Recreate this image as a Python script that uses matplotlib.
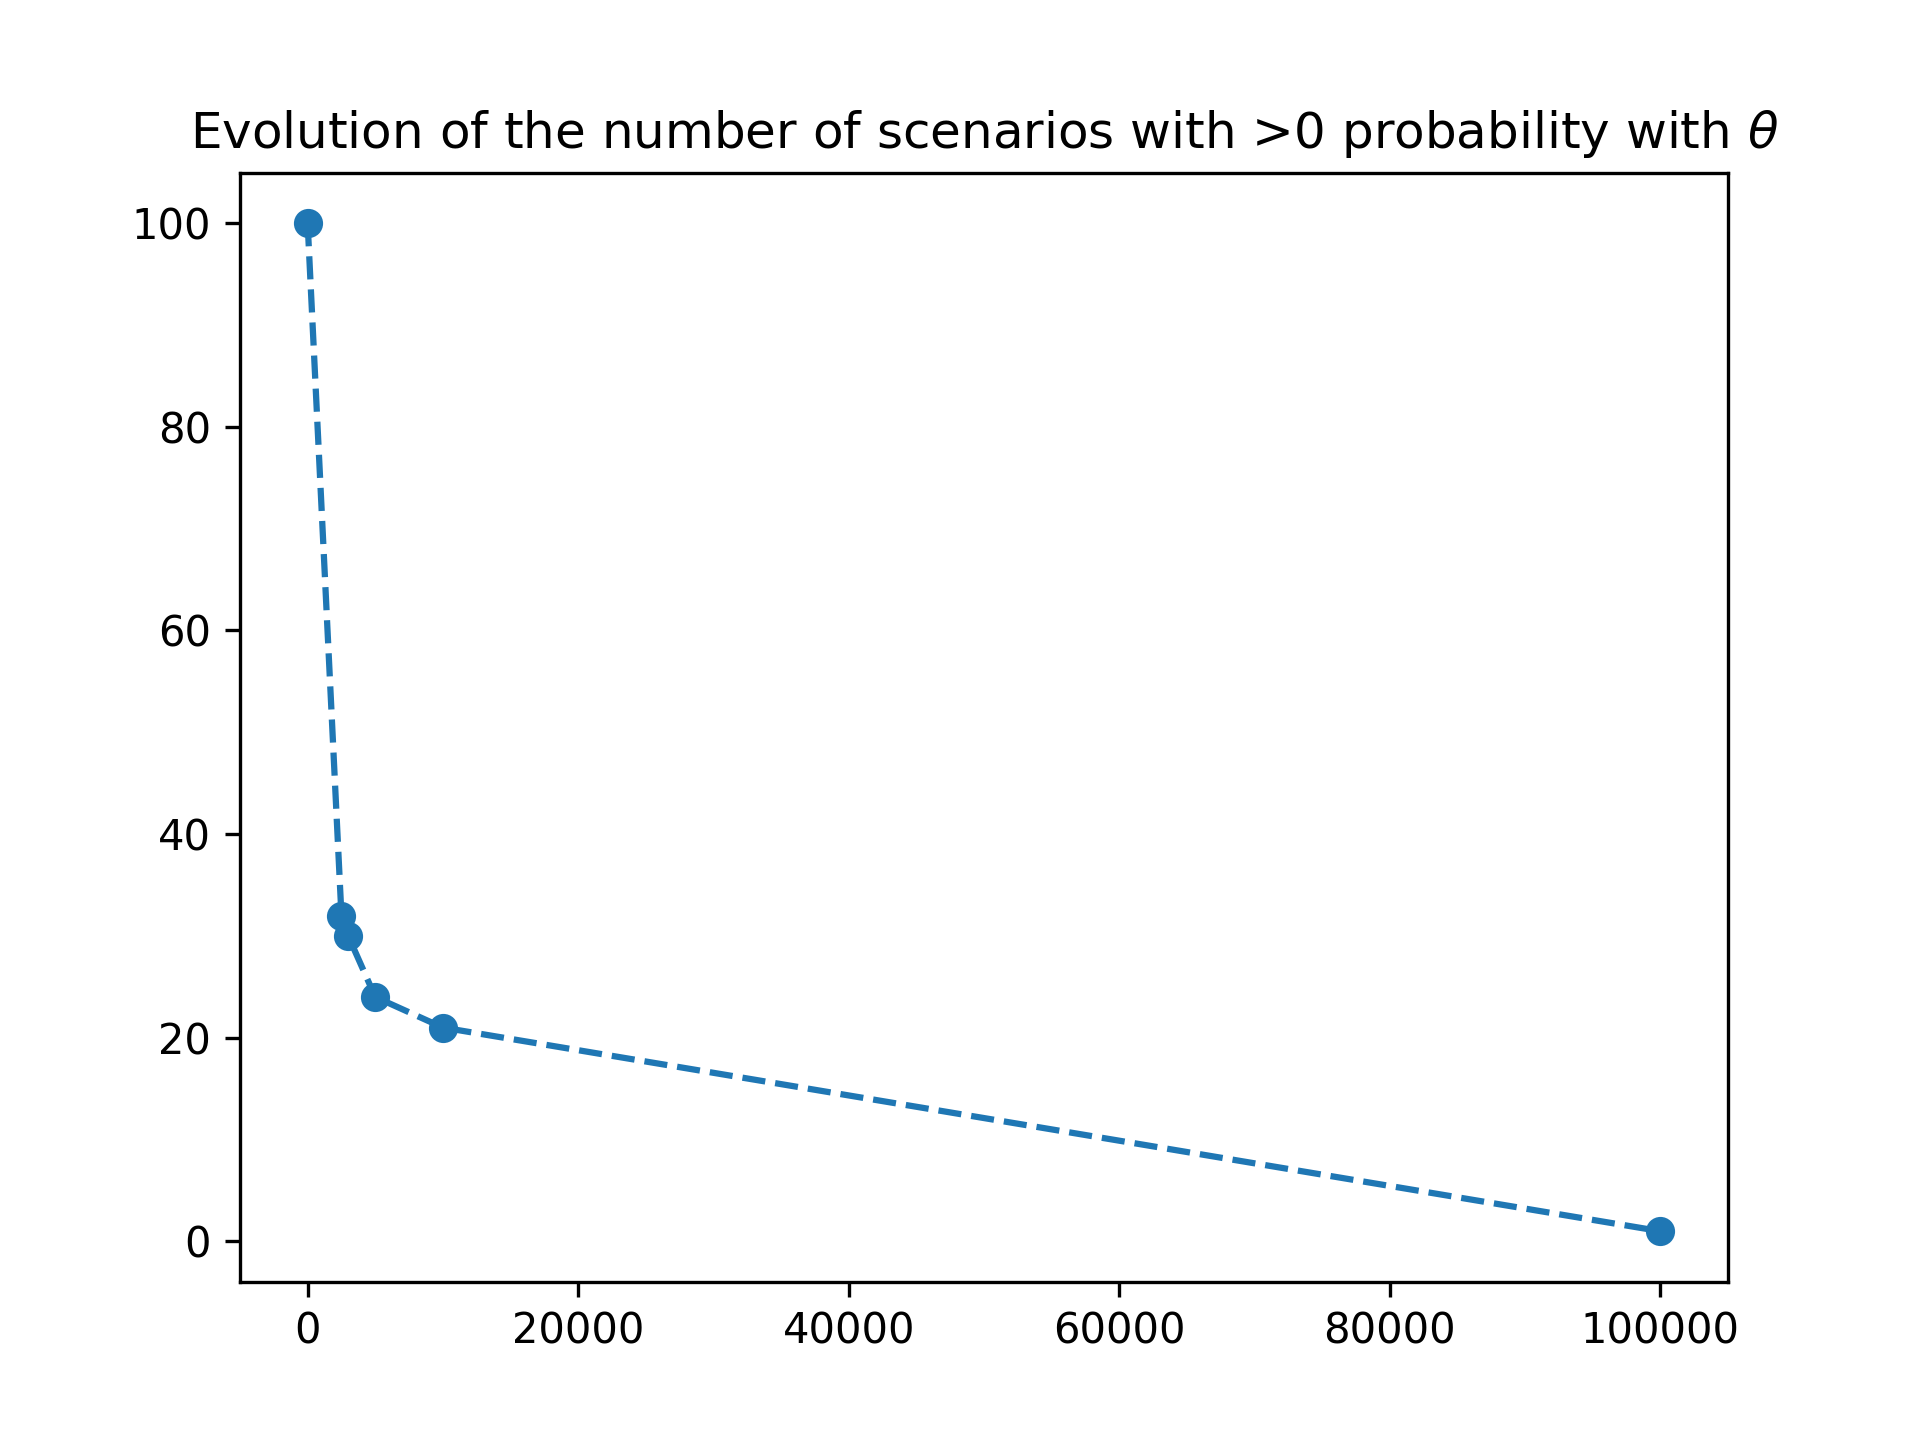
import matplotlib
matplotlib.use('Agg')
import matplotlib.pyplot as plt

# theta values and number of scenarios with >0 probability
theta = [0, 2500, 3000, 5000, 10000, 100000]
n_scenarios = [100, 32, 30, 24, 21, 1]

plt.figure(figsize=(6.4, 4.8))
plt.plot(theta, n_scenarios, 'o--')
plt.title(r'Evolution of the number of scenarios with >0 probability with $\theta$')
plt.savefig('out.png', dpi=300)
